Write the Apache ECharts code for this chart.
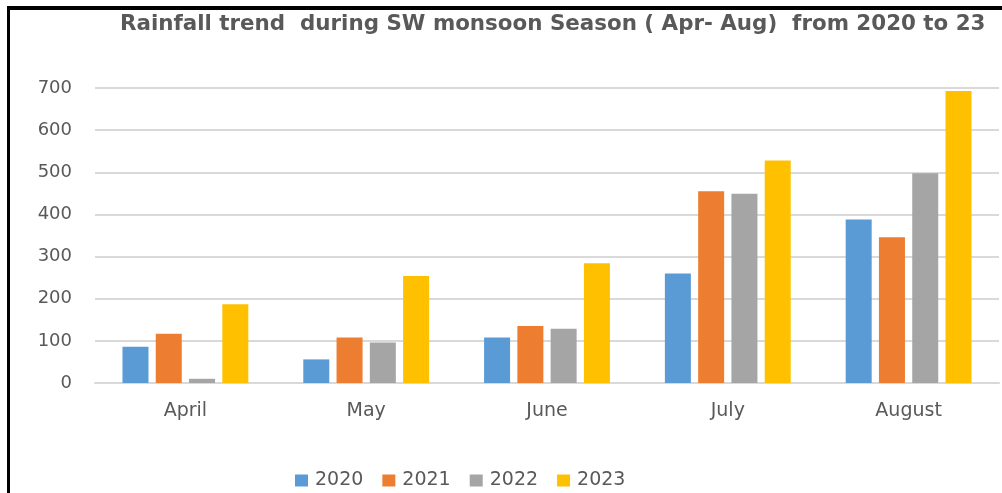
<!DOCTYPE html>
<html>
<head>
<meta charset="utf-8">
<script src="https://cdn.jsdelivr.net/npm/echarts@6/dist/echarts.min.js"></script>
<style>
html,body{margin:0;padding:0;background:#fff;}
#c{width:1002px;height:493px;}
</style>
</head>
<body>
<div id="c"></div>
<script>
const categories = ['April', 'May', 'June', 'July', 'August'];
const years = ['2020', '2021', '2022', '2023'];
const s2020 = [86, 56, 108, 260, 388];
const s2021 = [117, 108, 135, 455, 346];
const s2022 = [10, 96, 129, 449, 498];
const s2023 = [187, 254, 284, 528, 693];
const yTicks = [0, 100, 200, 300, 400, 500, 600, 700];
const colors = ['#5B9BD5', '#ED7D31', '#A5A5A5', '#FFC000'];

const chart = echarts.init(document.getElementById('c'), null, {renderer: 'canvas'});
const seriesData = [s2020, s2021, s2022, s2023];
chart.setOption({
  animation: false,
  backgroundColor: '#ffffff',
  title: {
    text: 'Rainfall trend  during SW monsoon Season ( Apr- Aug)  from 2020 to 23',
    left: 115, top: 9,
    textStyle: {fontFamily: 'DejaVu Sans', fontWeight: 'bold', fontSize: 21.4, color: '#595959'}
  },
  legend: {
    left: 290, top: 466,
    itemWidth: 13, itemHeight: 12, itemGap: 19,
    icon: 'rect',
    textStyle: {fontFamily: 'DejaVu Sans', fontSize: 19, color: '#595959', padding: [0, 0, 0, 2]},
    data: years
  },
  grid: {left: 95, right: 3, top: 88, bottom: 110, containLabel: false},
  xAxis: {
    type: 'category', data: categories,
    axisTick: {show: false},
    axisLine: {lineStyle: {color: '#D9D9D9', width: 2}},
    axisLabel: {fontFamily: 'DejaVu Sans', fontSize: 19, color: '#595959', margin: 19}
  },
  yAxis: {
    type: 'value', min: yTicks[0], max: yTicks[yTicks.length - 1], interval: 100,
    axisLine: {show: false}, axisTick: {show: false},
    splitLine: {lineStyle: {color: '#D9D9D9', width: 2}},
    axisLabel: {fontFamily: 'DejaVu Sans', fontSize: 18, color: '#595959', margin: 23}
  },
  series: years.map((y, i) => ({
    name: y, type: 'bar', data: seriesData[i],
    barWidth: 26, barGap: '28%',
    itemStyle: {color: colors[i]}
  })),
  graphic: [
    {type: 'rect', shape: {x: 7, y: 6, width: 995, height: 4}, style: {fill: '#000'}},
    {type: 'rect', shape: {x: 7, y: 6, width: 3, height: 487}, style: {fill: '#000'}}
  ]
});
</script>
</body>
</html>
